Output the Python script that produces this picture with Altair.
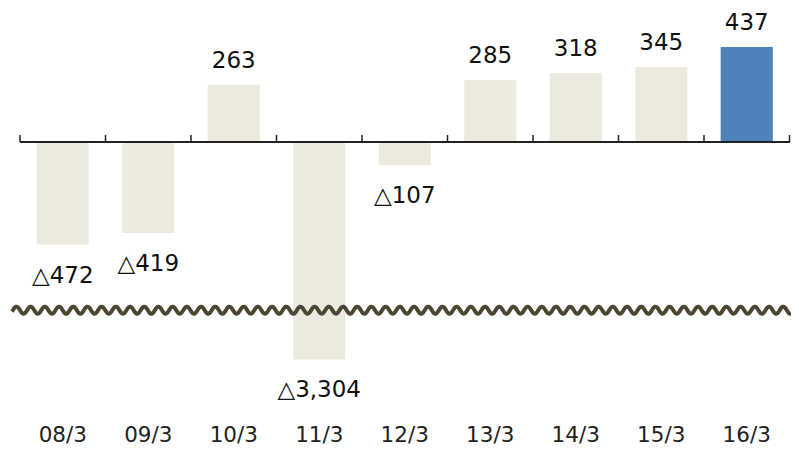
import altair as alt
import pandas as pd

categories = ["08/3", "09/3", "10/3", "11/3", "12/3", "13/3", "14/3", "15/3", "16/3"]
values = [-472, -419, 263, -3304, -107, 285, 318, 345, 437]
highlight = "16/3"
axis_break = -1000   # broken axis: bars beyond this are cut (wavy line)
axis_top = 600

df = pd.DataFrame({"period": categories, "value": values})
df["label"] = [("△" + format(-v, ",")) if v < 0 else format(v, ",") for v in values]
df["hl"] = [c == highlight for c in categories]

FONT = "DejaVu Sans"
W, H = 769.5, 347.8
INK = "#222222"

xs = alt.Scale(paddingInner=0, paddingOuter=0)
xaxis = alt.Axis(title=None, domain=False, ticks=False, tickSize=0,
                 labelPadding=82, labelBaseline="alphabetic", labelAngle=0,
                 labelFont=FONT, labelFontSize=21.5, labelColor=INK, grid=False)


def X(**kw):
    return alt.X("period:N", sort=categories, scale=xs, axis=xaxis, **kw)


yscale = alt.Scale(domain=[axis_break, axis_top], clamp=True, nice=False, zero=False)
y = alt.Y("value:Q", scale=yscale, axis=None)
y0 = alt.Y(datum=0, scale=yscale, axis=None)

base = alt.Chart(df)

bars = base.mark_bar(width=alt.RelativeBandSize(0.61)).encode(
    x=X(), y=y,
    color=alt.condition(alt.datum.hl, alt.value("#4F81BD"), alt.value("#ECEADF")),
)

zero = base.mark_rule(color=INK, strokeWidth=1.5).encode(y=y0)

ticks = base.mark_rule(color=INK, strokeWidth=1.5, y2Offset=-7).encode(
    x=X(bandPosition=0), y=y0, y2=alt.Y2(datum=0),
)
last_tick = base.transform_filter(alt.datum.period == categories[-1]).mark_rule(
    color=INK, strokeWidth=1.5, y2Offset=-7).encode(
    x=X(bandPosition=1), y=y0, y2=alt.Y2(datum=0),
)

wave = alt.Chart(alt.sequence(-8, 772, 0.5, as_="px")).transform_calculate(
    py="298.6 + 3.6*sin(2*PI*datum.px/14.2)"
).mark_line(color="#4B4631", strokeWidth=3.9, interpolate="monotone").encode(
    x=alt.X("px:Q", scale=None, axis=None),
    y=alt.Y("py:Q", scale=None, axis=None),
)

pos = base.transform_filter(alt.datum.value >= 0).mark_text(
    dy=-17, baseline="alphabetic", font=FONT, fontSize=23, color="#111111"
).encode(x=X(), y=y, text="label:N")
neg = base.transform_filter(alt.datum.value < 0).mark_text(
    dy=38, baseline="alphabetic", font=FONT, fontSize=23, color="#111111"
).encode(x=X(), y=y, text="label:N")

chart = alt.layer(bars, zero, ticks, last_tick, wave, pos, neg).properties(
    width=W, height=H,
    padding={"left": 12, "top": 3.6, "right": 1.5, "bottom": 90},
    autosize=alt.AutoSizeParams(type="none"),
).configure_view(stroke=None)

chart.save("out.html", embed_options={"renderer": "svg", "actions": False})
